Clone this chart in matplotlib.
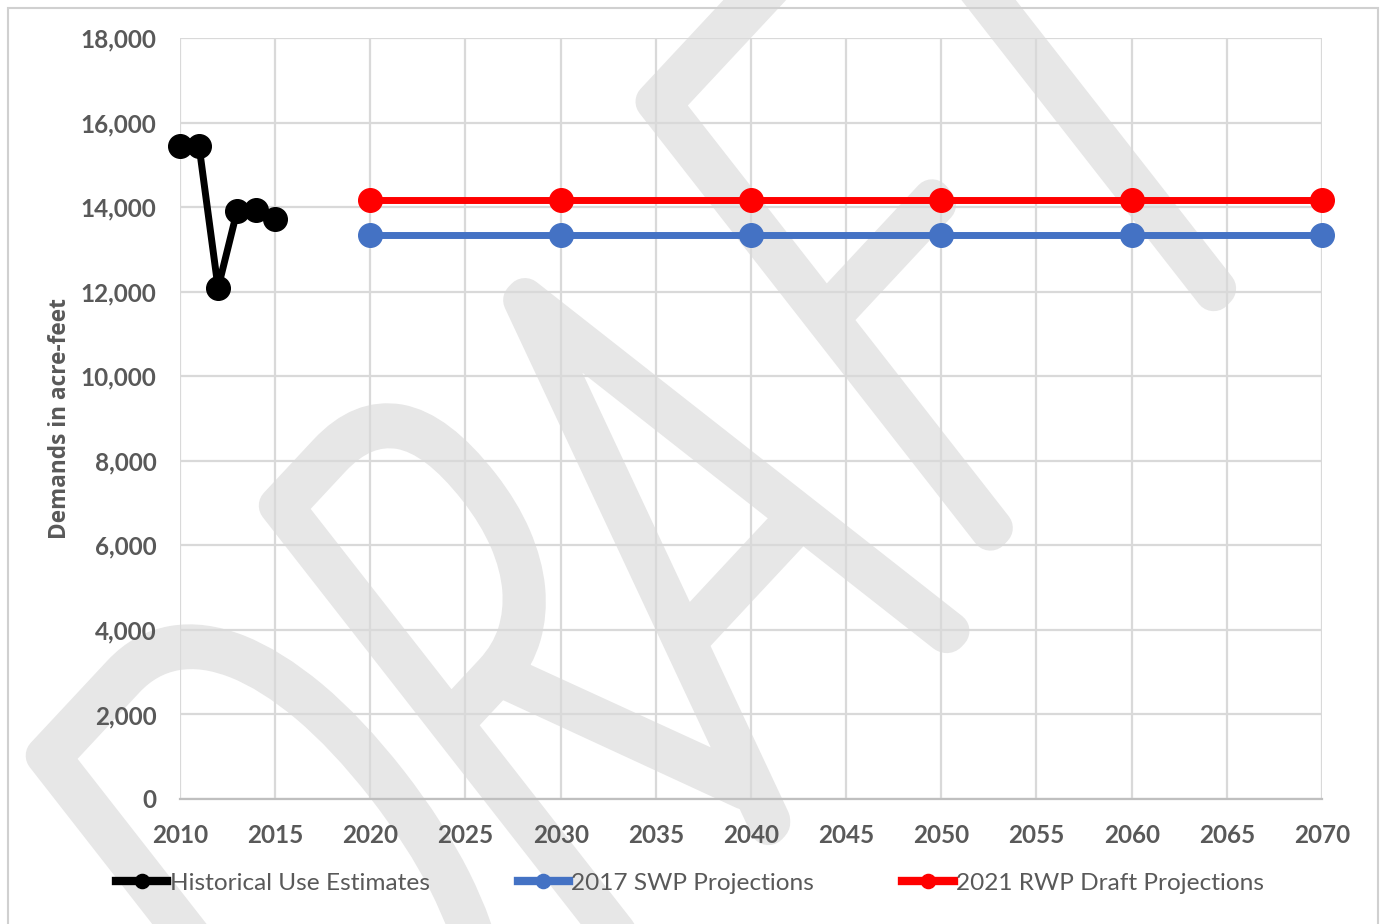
import numpy as np
import matplotlib.pyplot as plt
from matplotlib.patches import Rectangle, PathPatch
from matplotlib.path import Path
from matplotlib.textpath import TextPath
from matplotlib.font_manager import FontProperties, findfont, get_font
from matplotlib.transforms import Affine2D

# ===== DATA =====
hist_years = [2010, 2011, 2012, 2013, 2014, 2015]
hist_use = [15450, 15450, 12090, 13910, 13930, 13720]

proj_years = [2020, 2030, 2040, 2050, 2060, 2070]
swp_2017 = [13340, 13340, 13340, 13340, 13340, 13340]
rwp_2021 = [14170, 14170, 14170, 14170, 14170, 14170]

x_ticks = list(range(2010, 2071, 5))
y_ticks = list(range(0, 18001, 2000))

TICK_COLOR = "#595959"
GRID_COLOR = "#d9d9d9"
WM_COLOR = "#e7e7e7"
W, H = 1383, 924

fig = plt.figure(figsize=(W / 100, H / 100), dpi=100)
ax = fig.add_axes([180 / W, 1 - 799 / H, (1322 - 180) / W, (799 - 38) / H])

# outer chart border
fig.patches.append(Rectangle((8 / W, -0.01), (1378 - 8) / W, 1 - 8 / H + 0.01,
                             transform=fig.transFigure, fill=False,
                             edgecolor="#d0d0d0", linewidth=1.5, zorder=0))

# slanted "DRAFT" watermark: a hairline font stroked with a fat round pen,
# laid out letter by letter in em units, then mapped to pixels
wm_font = FontProperties(family="Lato", weight="light")
ft = get_font(findfont(wm_font))
ft.set_size(100, 72)
nudge = {"A": (-0.07, -0.05)}
glyphs, pen = [], 0.0
for ch in "DRAFT":
    du, dv = nudge.get(ch, (0, 0))
    glyphs.append(TextPath((pen + du, dv), ch, size=1, prop=wm_font))
    pen += ft.load_char(ord(ch)).linearHoriAdvance / 65536 / 100
wm = Path.make_compound_path(*glyphs)

ang_b, ang_u = np.radians(47), np.radians(128)
bx, by = 450 * np.cos(ang_b), 450 * np.sin(ang_b)
ux, uy = 780 * np.cos(ang_u), 780 * np.sin(ang_u)
wm_tf = Affine2D(np.array([[bx, ux, 345], [by, uy, -300], [0, 0, 1]]))
ax.add_patch(PathPatch(wm, transform=wm_tf, facecolor=WM_COLOR,
                       edgecolor=WM_COLOR, lw=27, joinstyle="round",
                       capstyle="round", clip_on=False, zorder=0.5))

ax.set_facecolor("none")
ax.plot(hist_years, hist_use, color="black", lw=5, marker="o", ms=17,
        label="Historical Use Estimates", zorder=3, clip_on=False)
ax.plot(proj_years, swp_2017, color="#4472c4", lw=5, marker="o", ms=17,
        label="2017 SWP Projections", zorder=3, clip_on=False)
ax.plot(proj_years, rwp_2021, color="#ff0000", lw=5, marker="o", ms=17,
        label="2021 RWP Draft Projections", zorder=3, clip_on=False)

ax.set_xlim(2010, 2070)
ax.set_ylim(0, 18000)
ax.set_xticks(x_ticks)
ax.set_yticks(y_ticks)
ax.set_yticklabels([f"{v:,}" for v in y_ticks])
ax.grid(True, color=GRID_COLOR, lw=1.6)
for side in ["top", "right", "left"]:
    ax.spines[side].set_visible(False)
ax.spines["bottom"].set_color("#bfbfbf")
ax.spines["bottom"].set_linewidth(1.6)
ax.tick_params(length=0, labelsize=17.5, labelcolor=TICK_COLOR)
ax.tick_params(axis="x", pad=18)
ax.tick_params(axis="y", pad=17)
for lbl in ax.get_xticklabels() + ax.get_yticklabels():
    lbl.set_fontweight("bold")
    lbl.set_family("Lato")

ax.set_ylabel("Demands in acre-feet", fontsize=16.3, fontweight="bold",
              family="Open Sans", color=TICK_COLOR)
ax.yaxis.set_label_coords((72 - 180) / (1322 - 180), 0.5)

leg = fig.legend(loc="center", bbox_to_anchor=(690 / W, 1 - 883 / H), ncol=3,
                 frameon=False, handlelength=2.1, handletextpad=0.1,
                 columnspacing=3.6, prop={"family": "Lato", "size": 17.6},
                 markerscale=0.6)
for h in leg.legend_handles:
    h.set_linewidth(6)
for t in leg.get_texts():
    t.set_color(TICK_COLOR)

fig.savefig("out.png", dpi=100)
